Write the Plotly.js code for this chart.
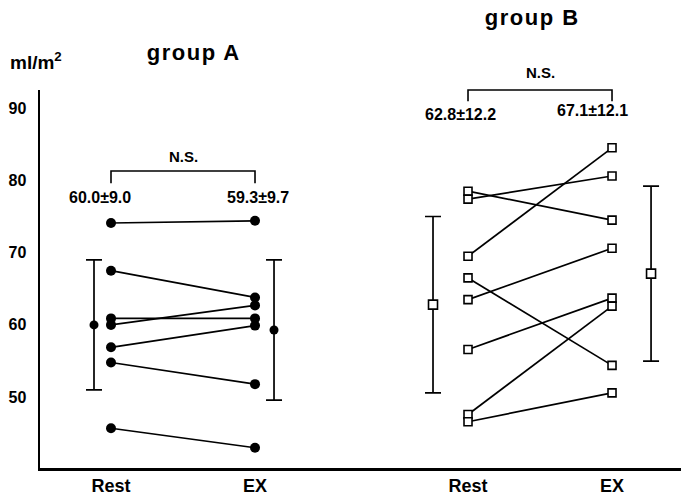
<!DOCTYPE html>
<html>
<head>
<meta charset="utf-8">
<script src="https://cdn.plot.ly/plotly-3.0.1.min.js"></script>
<style>
html,body{margin:0;padding:0;background:#fff;}
#chart{width:681px;height:499px;}
.annotation[data-index="0"] text,.annotation[data-index="1"] text{letter-spacing:1.5px;}
</style>
</head>
<body>
<div id="chart"></div>
<script>
// ---- data ----
var categories = ["Rest", "EX", "Rest", "EX"];
var groupNames = ["group A", "group B"];
var groupA_rest = [74.1, 67.5, 60.9, 60.0, 56.9, 54.8, 45.7];
var groupA_ex   = [74.4, 63.8, 60.9, 62.7, 59.9, 51.8, 43.0];
var groupB_rest = [78.5, 77.4, 69.5, 66.5, 63.5, 56.6, 47.6, 46.6];
var groupB_ex   = [74.5, 80.6, 84.5, 54.4, 70.6, 63.7, 62.6, 50.6];
var groupA_mean = [60.0, 59.3];
var groupA_sd   = [9.0, 9.7];
var groupB_mean = [62.8, 67.1];
var groupB_sd   = [12.2, 12.1];
var yTickVals = [50, 60, 70, 80, 90];
var yUnit = "ml/m<sup>2</sup>";
var sigLabel = "N.S.";

// ---- layout positions (x axis units) ----
var xPos = [1, 2, 3.479, 4.479];
var meanX = [0.882, 2.132, 3.236, 4.75];

function fmt(m, s) { return m.toFixed(1) + "±" + s.toFixed(1); }

var traces = [];
var FONT = "Liberation Sans, Arial, sans-serif";

groupA_rest.forEach(function (r, i) {
  traces.push({
    x: [xPos[0], xPos[1]], y: [r, groupA_ex[i]], type: "scatter", mode: "lines+markers",
    line: {color: "#000", width: 1.7},
    marker: {symbol: "circle", size: 10, color: "#000"},
    hoverinfo: "skip", showlegend: false
  });
});
groupB_rest.forEach(function (r, i) {
  traces.push({
    x: [xPos[2], xPos[3]], y: [r, groupB_ex[i]], type: "scatter", mode: "lines+markers",
    line: {color: "#000", width: 1.7},
    marker: {symbol: "square", size: 8, color: "#fff", line: {width: 1.6, color: "#000"}},
    hoverinfo: "skip", showlegend: false
  });
});
// mean +- SD
traces.push({
  x: [meanX[0], meanX[1]], y: groupA_mean, type: "scatter", mode: "markers",
  marker: {symbol: "circle", size: 9, color: "#000"},
  error_y: {type: "data", array: groupA_sd, visible: true, color: "#000", thickness: 1.7, width: 8},
  showlegend: false, hoverinfo: "skip"
});
traces.push({
  x: [meanX[2], meanX[3]], y: groupB_mean, type: "scatter", mode: "markers",
  marker: {symbol: "square", size: 9, color: "#fff", line: {width: 1.6, color: "#000"}},
  error_y: {type: "data", array: groupB_sd, visible: true, color: "#000", thickness: 1.7, width: 8},
  showlegend: false, hoverinfo: "skip"
});

var annFont = {family: FONT, size: 16, color: "#000", weight: "bold"};
var layout = {
  width: 681, height: 499,
  margin: {l: 40, r: 0, t: 90, b: 31, pad: 0},
  paper_bgcolor: "#fff", plot_bgcolor: "#fff",
  showlegend: false,
  xaxis: {
    range: [0.507, 4.958], showgrid: false, zeroline: false,
    showline: true, linecolor: "#000", linewidth: 2.5,
    tickmode: "array", tickvals: xPos, ticktext: categories, ticks: "",
    tickfont: {family: FONT, size: 18, color: "#000", weight: "bold"}
  },
  yaxis: {
    range: [40.2, 92.5], showgrid: false, zeroline: false,
    showline: true, linecolor: "#000", linewidth: 2.5,
    tickmode: "array", tickvals: yTickVals, ticks: "", ticklabelstandoff: 8,
    tickfont: {family: FONT, size: 16, color: "#000", weight: "bold"}
  },
  shapes: [
    {type: "path", xref: "x", yref: "y",
     path: "M " + xPos[0] + " 79.6 L " + xPos[0] + " 81.3 L " + xPos[1] + " 81.3 L " + xPos[1] + " 79.6",
     line: {color: "#000", width: 1.6}},
    {type: "path", xref: "x", yref: "paper",
     path: "M " + xPos[2] + " 0.970 L " + xPos[2] + " 1.0 L " + xPos[3] + " 1.0 L " + xPos[3] + " 0.970",
     line: {color: "#000", width: 1.6}}
  ],
  annotations: [
    {text: groupNames[0], xref: "paper", yref: "paper", x: 0.240, y: 1.1005, showarrow: false,
     font: {family: FONT, size: 22, color: "#000", weight: "bold"}, xanchor: "center", yanchor: "middle"},
    {text: groupNames[1], xref: "paper", yref: "paper", x: 0.7676, y: 1.193, showarrow: false,
     font: {family: FONT, size: 22, color: "#000", weight: "bold"}, xanchor: "center", yanchor: "middle"},
    {text: yUnit, xref: "paper", yref: "paper", x: -0.006, y: 1.077, showarrow: false,
     font: {family: FONT, size: 19, color: "#000", weight: "bold"}, xanchor: "center", yanchor: "middle"},
    {text: sigLabel, xref: "x", yref: "y", x: 1.5, y: 83.3, showarrow: false,
     font: {family: FONT, size: 15, color: "#000", weight: "bold"}, xanchor: "center", yanchor: "middle"},
    {text: sigLabel, xref: "x", yref: "paper", x: 3.979, y: 1.045, showarrow: false,
     font: {family: FONT, size: 15, color: "#000", weight: "bold"}, xanchor: "center", yanchor: "middle"},
    {text: fmt(groupA_mean[0], groupA_sd[0]), xref: "x", yref: "y", x: 0.924, y: 77.6, showarrow: false,
     font: annFont, xanchor: "center", yanchor: "middle"},
    {text: fmt(groupA_mean[1], groupA_sd[1]), xref: "x", yref: "y", x: 2.02, y: 77.6, showarrow: false,
     font: annFont, xanchor: "center", yanchor: "middle"},
    {text: fmt(groupB_mean[0], groupB_sd[0]), xref: "x", yref: "paper", x: 3.424, y: 0.935, showarrow: false,
     font: annFont, xanchor: "center", yanchor: "middle"},
    {text: fmt(groupB_mean[1], groupB_sd[1]), xref: "x", yref: "paper", x: 4.34, y: 0.945, showarrow: false,
     font: annFont, xanchor: "center", yanchor: "middle"}
  ]
};

Plotly.newPlot("chart", traces, layout, {displayModeBar: false, staticPlot: true});
</script>
</body>
</html>
